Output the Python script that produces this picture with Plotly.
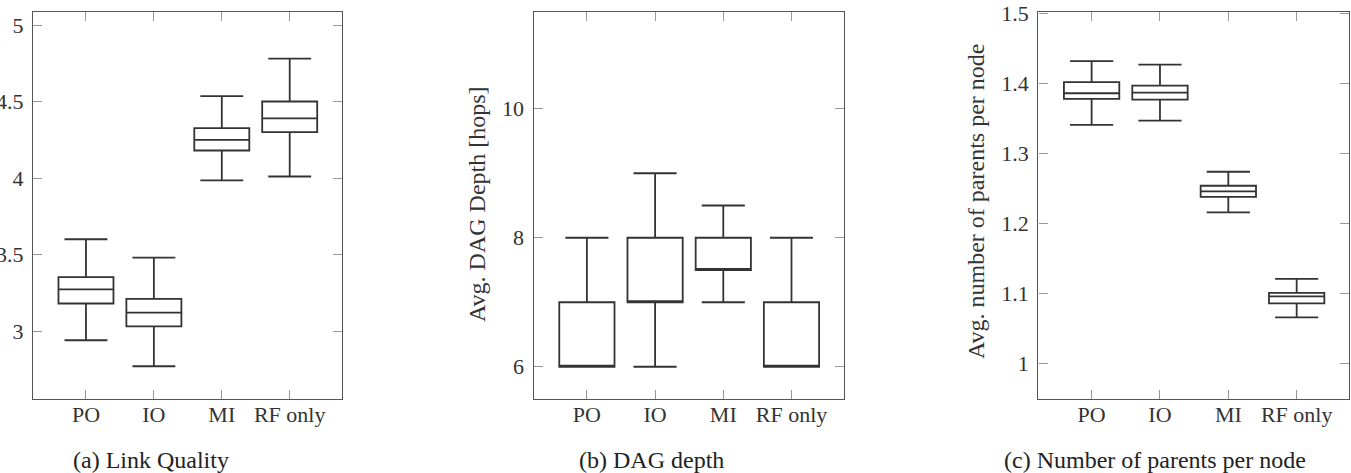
import plotly.graph_objects as go

categories = ["PO", "IO", "MI", "RF only"]

# (a) Link Quality
lq_low = [2.94, 2.77, 3.985, 4.01]
lq_q1 = [3.18, 3.03, 4.18, 4.30]
lq_med = [3.272, 3.12, 4.25, 4.39]
lq_q3 = [3.352, 3.21, 4.326, 4.50]
lq_high = [3.60, 3.48, 4.535, 4.78]

# (b) DAG depth
dd_low = [6, 6, 7, 6]
dd_q1 = [6, 7, 7.5, 6]
dd_med = [6, 7, 7.5, 6]
dd_q3 = [7, 8, 8, 7]
dd_high = [8, 9, 8.5, 8]

# (c) Number of parents per node
np_low = [1.341, 1.347, 1.216, 1.066]
np_q1 = [1.378, 1.377, 1.238, 1.086]
np_med = [1.386, 1.387, 1.246, 1.096]
np_q3 = [1.402, 1.397, 1.254, 1.101]
np_high = [1.432, 1.427, 1.274, 1.121]

panels = [
    (lq_low, lq_q1, lq_med, lq_q3, lq_high),
    (dd_low, dd_q1, dd_med, dd_q3, dd_high),
    (np_low, np_q1, np_med, np_q3, np_high),
]

W, H = 1351, 473
xdoms = [(33, 342), (533.7, 844), (1038.3, 1349.3)]
ydom = [1 - 399 / H, 1 - 12 / H]
yranges = [[2.556, 5.085], [5.5, 11.5], [0.9496, 1.502]]
ytickvals = [[3, 3.5, 4, 4.5, 5], [6, 8, 10], [1, 1.1, 1.2, 1.3, 1.4, 1.5]]
yticktext = [["3", "3.5", "4", "4.5", "5"], ["6", "8", "10"], ["1", "1.1", "1.2", "1.3", "1.4", "1.5"]]

font_family = "Liberation Serif"
fig = go.Figure()

for i, (lo, q1, med, q3, hi) in enumerate(panels):
    sfx = "" if i == 0 else str(i + 1)
    fig.add_trace(go.Box(
        x=categories, lowerfence=lo, q1=q1, median=med, q3=q3, upperfence=hi,
        xaxis="x" + sfx, yaxis="y" + sfx,
        fillcolor="white", line=dict(color="#333333", width=1.8),
        width=0.81, whiskerwidth=0.78, boxpoints=False, showlegend=False,
        hoverinfo="skip",
    ))
    axcommon = dict(showline=True, linecolor="#555555", linewidth=1.4, mirror="ticks",
                    ticks="inside", ticklen=9, tickcolor="#999999", tickwidth=1,
                    showgrid=False, zeroline=False, automargin=False,
                    tickfont=dict(family=font_family, size=22, color="#333333"))
    fig.update_layout(**{
        "xaxis" + sfx: dict(domain=[xdoms[i][0] / W, xdoms[i][1] / W], anchor="y" + sfx,
                            type="category", range=[-0.78, 3.77], ticklabelstandoff=-5,
                            **axcommon),
        "yaxis" + sfx: dict(domain=ydom, anchor="x" + sfx, range=yranges[i],
                            tickvals=ytickvals[i], ticktext=yticktext[i], ticklabelstandoff=4,
                            **axcommon),
    })

captions = ["(a) Link Quality", "(b) DAG depth", "(c) Number of parents per node"]
caption_x = [151, 651.5, 1154.5]
anns = []
for text, cx in zip(captions, caption_x):
    anns.append(dict(text=text, x=cx / W, y=1 - 460 / H, xref="paper", yref="paper",
                     showarrow=False, xanchor="center", yanchor="middle",
                     font=dict(family=font_family, size=24, color="#222222")))
anns.append(dict(text="Avg. DAG Depth [hops]", x=477 / W, y=1 - 204 / H, xref="paper", yref="paper",
                 showarrow=False, textangle=-90, xanchor="center", yanchor="middle",
                 font=dict(family=font_family, size=24, color="#333333")))
anns.append(dict(text="Avg. number of parents per node", x=976 / W, y=1 - 202 / H, xref="paper", yref="paper",
                 showarrow=False, textangle=-90, xanchor="center", yanchor="middle",
                 font=dict(family=font_family, size=24, color="#333333")))

fig.update_layout(width=W, height=H, margin=dict(l=0, r=0, t=0, b=0),
                  paper_bgcolor="white", plot_bgcolor="white", annotations=anns)

fig.write_html("out.html")
